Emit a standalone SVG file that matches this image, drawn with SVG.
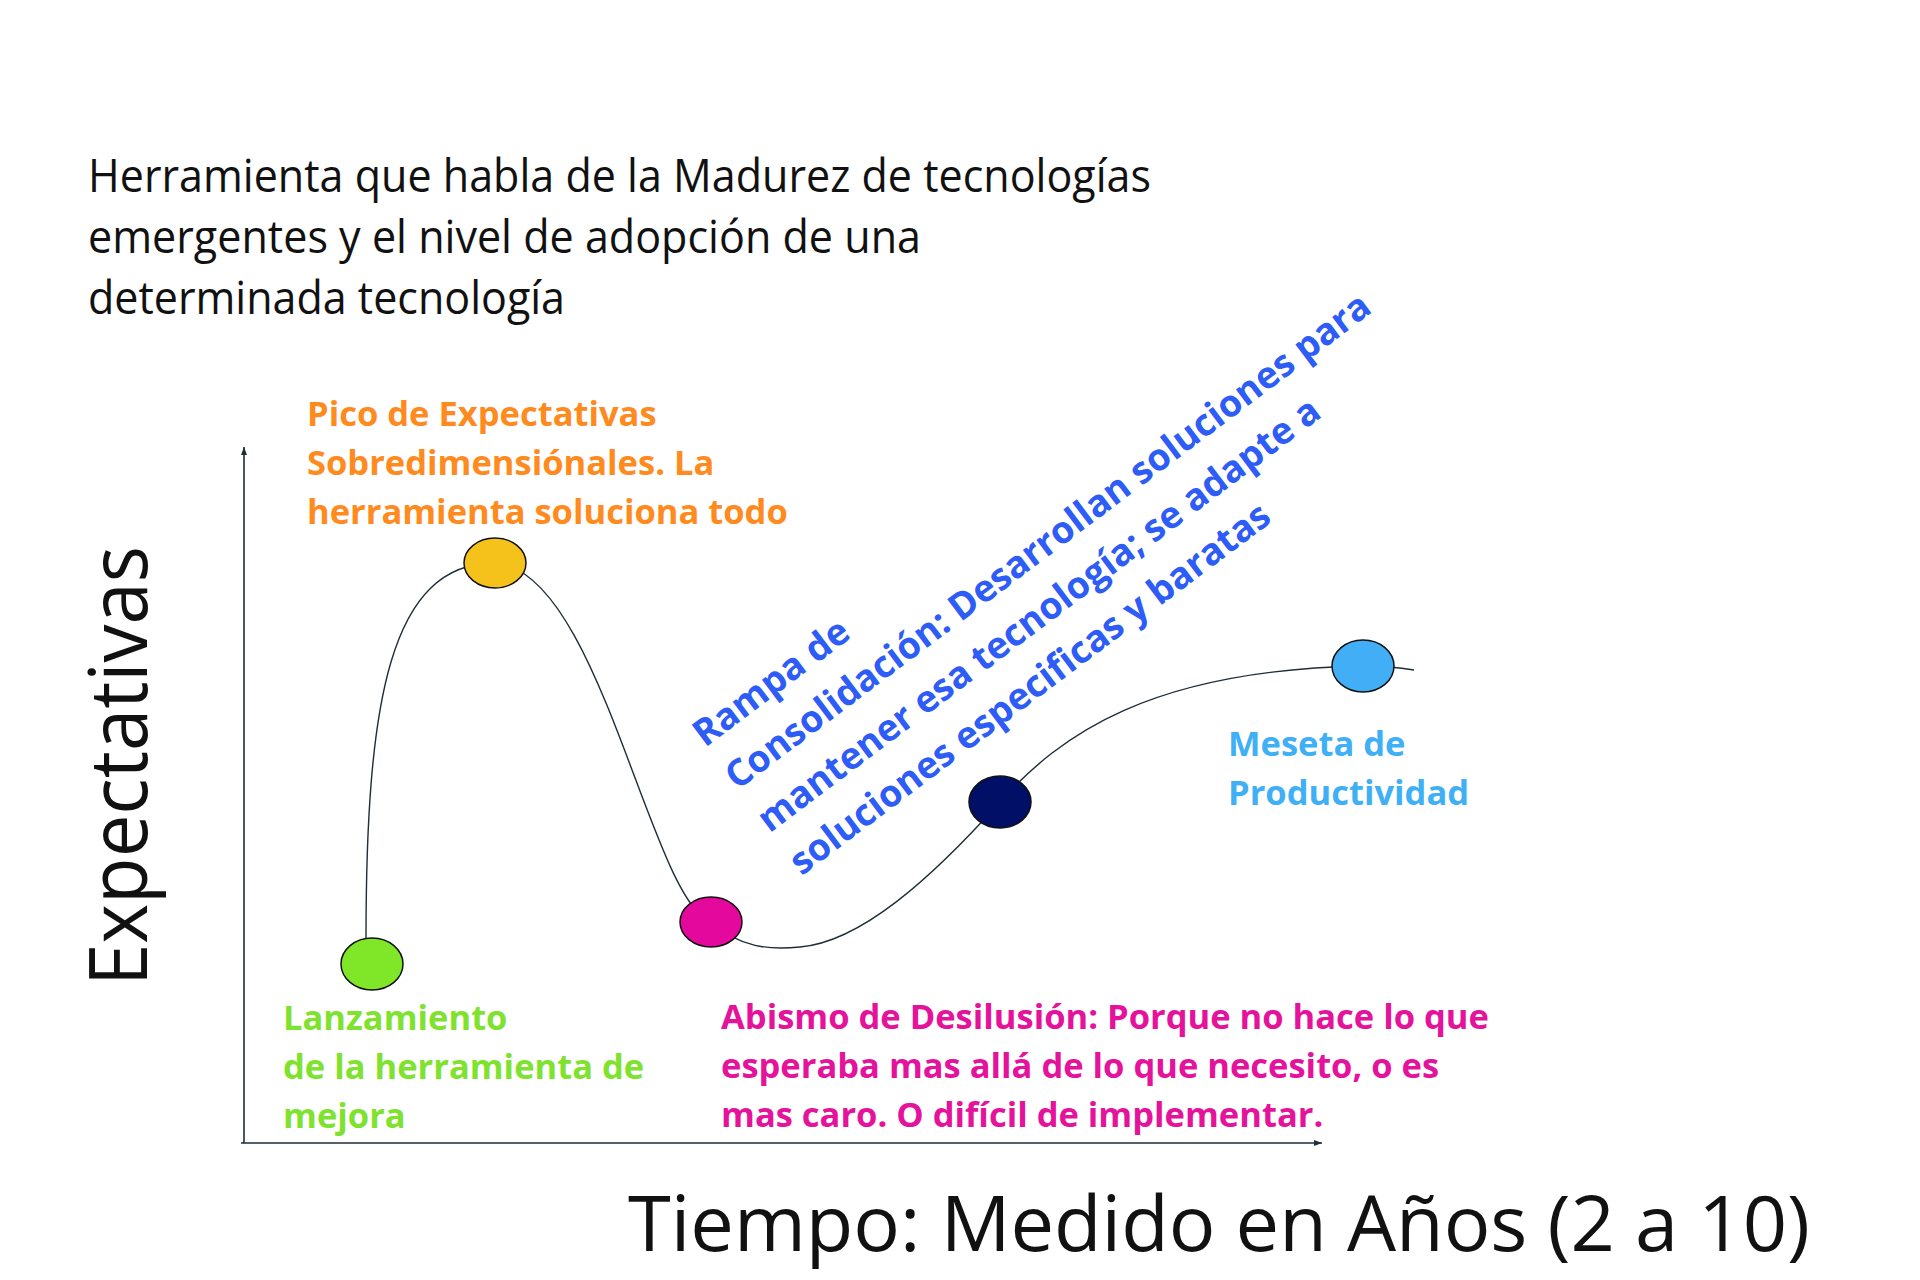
<svg xmlns="http://www.w3.org/2000/svg" width="1920" height="1280" viewBox="0 0 1920 1280">
<defs>
<marker id="ah" markerWidth="10" markerHeight="10" refX="8" refY="5" orient="auto" markerUnits="userSpaceOnUse">
<path d="M0,2 L8,5 L0,8 Z" fill="#1e2e36"/>
</marker>
<style>
.t{font-family:"Open Sans","Liberation Sans",sans-serif;fill:#111}
.b{font-family:"Open Sans","Liberation Sans",sans-serif;font-weight:700;font-size:34.5px}
.r{font-family:"Open Sans","Liberation Sans",sans-serif;font-weight:700;font-size:37.2px;fill:#2d5cf6}
.dot{stroke:#111;stroke-width:1.5}
.axis{stroke:#1e2e36;stroke-width:1.6;fill:none}
.curve{stroke:#1e2e36;stroke-width:1.4;fill:none}
</style>
</defs>
<rect width="1920" height="1280" fill="#fff"/>

<g id="title" class="t" font-size="45">
<text x="88" y="192" textLength="1063" lengthAdjust="spacingAndGlyphs">Herramienta que habla de la Madurez de tecnologías</text>
<text x="88" y="253" textLength="833" lengthAdjust="spacingAndGlyphs">emergentes y el nivel de adopción de una</text>
<text x="88" y="314" textLength="477" lengthAdjust="spacingAndGlyphs">determinada tecnología</text>
</g>

<g id="axes">
<line class="axis" x1="244" y1="1143" x2="244" y2="447" marker-end="url(#ah)"/>
<line class="axis" x1="241" y1="1143" x2="1322" y2="1143" marker-end="url(#ah)"/>
<text class="t" font-size="80" transform="translate(147,986) rotate(-90)" textLength="440" lengthAdjust="spacingAndGlyphs">Expectativas</text>
<text class="t" font-size="77" x="628" y="1251" textLength="1182" lengthAdjust="spacingAndGlyphs">Tiempo: Medido en Años (2 a 10)</text>
</g>

<g id="connectors">
<path class="curve" d="M366,940 C366,700 390,563 495,563 C600,570 650,900 711,922 C740,948 770,950 800,947 C860,942 930,880 1000,802 C1060,735 1150,670 1363,666 Q1390,666 1414,670"/>
</g>

<g id="node-lanzamiento">
<ellipse class="dot" cx="372" cy="964" rx="31" ry="26" fill="#80e628"/>
<g class="b" fill="#7ee22e">
<text x="283" y="1030">Lanzamiento</text>
<text x="283" y="1079">de la herramienta de</text>
<text x="283" y="1128">mejora</text>
</g>
</g>

<g id="node-pico">
<ellipse class="dot" cx="495" cy="563" rx="31" ry="25" fill="#f5c21b"/>
<g class="b" fill="#ff8a1e">
<text x="307" y="426">Pico de Expectativas</text>
<text x="307" y="475">Sobredimensiónales. La</text>
<text x="307" y="524">herramienta soluciona todo</text>
</g>
</g>

<g id="node-abismo">
<ellipse class="dot" cx="711" cy="922" rx="31" ry="25" fill="#e5089c"/>
<g class="b" fill="#e5129b">
<text x="721" y="1029">Abismo de Desilusión: Porque no hace lo que</text>
<text x="721" y="1078">esperaba mas allá de lo que necesito, o es</text>
<text x="721" y="1127">mas caro. O difícil de implementar.</text>
</g>
</g>

<g id="node-rampa">
<ellipse class="dot" cx="1000" cy="802" rx="31" ry="26" fill="#020f66"/>
<g class="r" transform="translate(705,748) rotate(-37)">
<text x="0" y="0">Rampa de</text>
<text x="0" y="53.5">Consolidación: Desarrollan soluciones para</text>
<text x="0" y="107">mantener esa tecnología; se adapte a</text>
<text x="0" y="160.5">soluciones especificas y baratas</text>
</g>
</g>

<g id="node-meseta">
<ellipse class="dot" cx="1363" cy="666" rx="31" ry="26" fill="#42aef5"/>
<g class="b" fill="#3fb0f5">
<text x="1228" y="756">Meseta de</text>
<text x="1228" y="805">Productividad</text>
</g>
</g>
</svg>
